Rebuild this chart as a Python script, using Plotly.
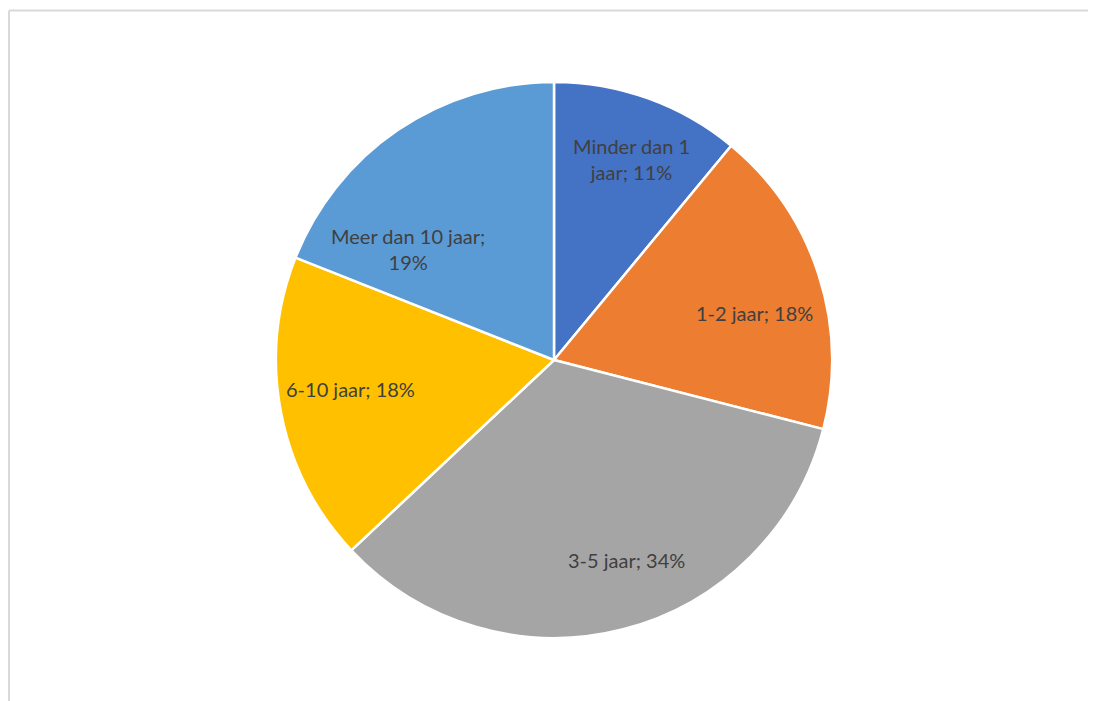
import math
import plotly.graph_objects as go

categories = ["Minder dan 1 jaar", "1-2 jaar", "3-5 jaar", "6-10 jaar", "Meer dan 10 jaar"]
values = [11, 18, 34, 18, 19]
label_texts = ["Minder dan 1<br>jaar; 11%", "1-2 jaar; 18%", "3-5 jaar; 34%",
               "6-10 jaar; 18%", "Meer dan 10 jaar;<br>19%"]
colors = ["#4472C4", "#ED7D31", "#A5A5A5", "#FFC000", "#5B9BD5"]

# label placement style: radial fraction of radius and angular nudge (degrees) from slice middle
label_radial = [0.774, 0.742, 0.766, 0.741, 0.66]
label_nudge = [1.2, 4.8, -5.6, 2.7, -18.6]

# page body has an 8px margin, so the figure is drawn 8px in from the window edge
OFF = 8
W, H = 1096 - OFF, 701 - OFF
cx, cy, R = 554 - OFF, 360 - OFF, 278
dom_x = [(cx - R) / W, (cx + R) / W]
dom_y = [1 - (cy + R) / H, 1 - (cy - R) / H]

fig = go.Figure(go.Pie(
    labels=categories, values=values, sort=False, direction="clockwise", rotation=0,
    marker=dict(colors=colors, line=dict(color="white", width=2.5)),
    textinfo="none", hoverinfo="label+percent", showlegend=False,
    domain=dict(x=dom_x, y=dom_y),
))

total = sum(values)
cum = 0
annotations = []
for v, t, rf, nd in zip(values, label_texts, label_radial, label_nudge):
    mid = (cum + v / 2) / total * 2 * math.pi + math.radians(nd)
    cum += v
    px = cx + rf * R * math.sin(mid)
    py = cy - rf * R * math.cos(mid)
    annotations.append(dict(x=px / W, y=1 - py / H, xref="paper", yref="paper",
                            text=t, showarrow=False, xanchor="center", yanchor="middle",
                            font=dict(family="Lato", size=20, color="#404040")))

top_y = 10.5 - OFF
left_x = 9 - OFF
fig.update_layout(
    width=W, height=H, margin=dict(l=0, r=0, t=0, b=0),
    paper_bgcolor="white", plot_bgcolor="white",
    annotations=annotations,
    shapes=[
        dict(type="line", xref="paper", yref="paper", x0=left_x / W, x1=1.0,
             y0=1 - top_y / H, y1=1 - top_y / H, line=dict(color="#D9D9D9", width=2)),
        dict(type="line", xref="paper", yref="paper", x0=left_x / W, x1=left_x / W,
             y0=1 - top_y / H, y1=0, line=dict(color="#D9D9D9", width=2)),
    ],
)

fig.write_html("out.html")
